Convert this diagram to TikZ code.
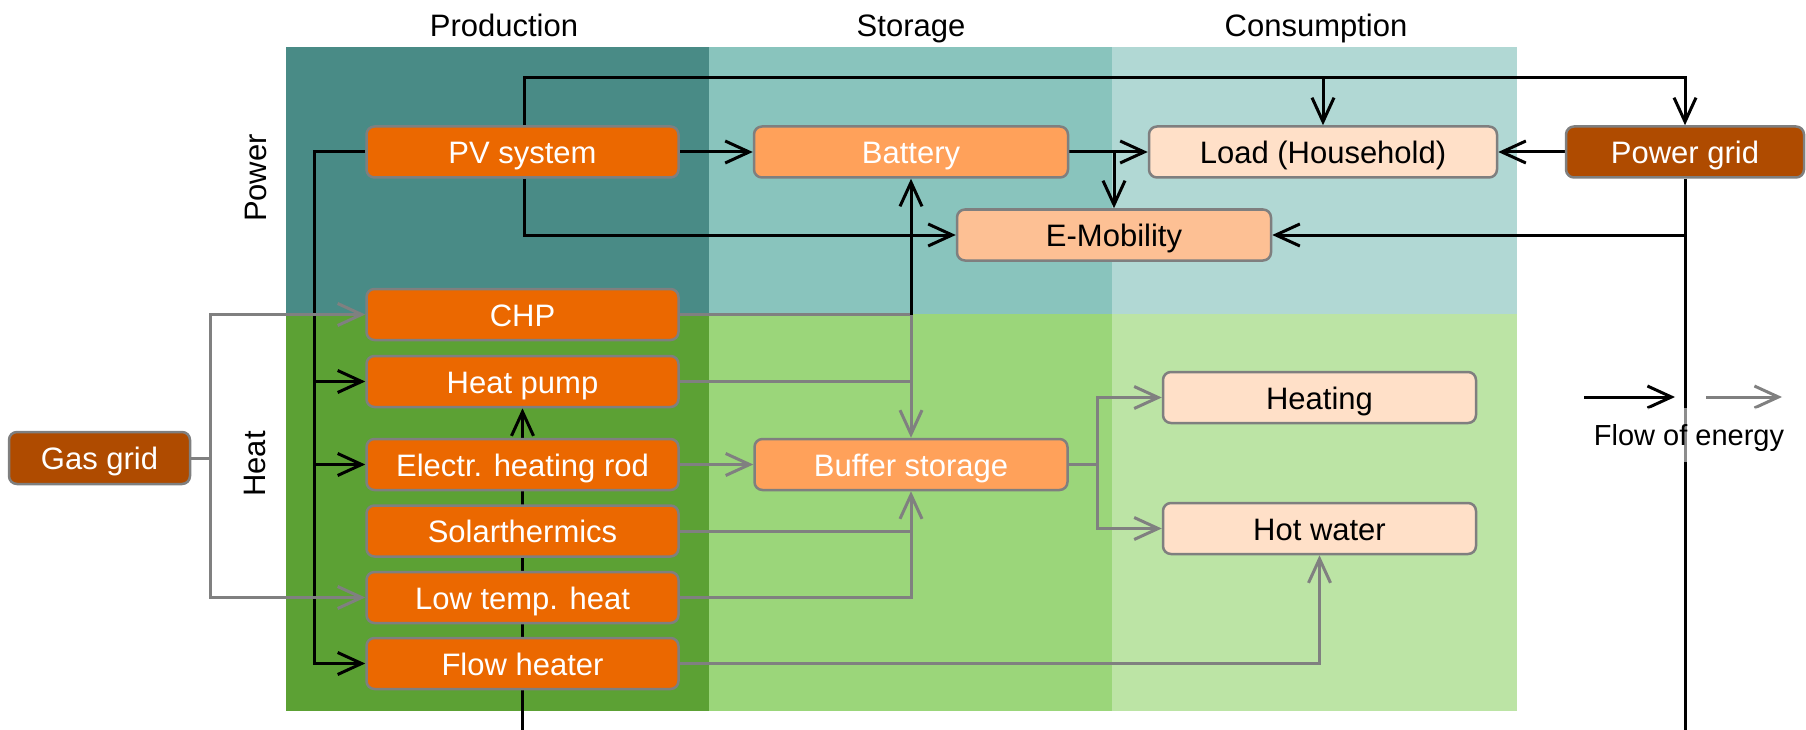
\documentclass[tikz,border=0pt]{standalone}
\usepackage{fontspec}
\setmainfont{Liberation Sans}
\usetikzlibrary{arrows.meta}
\pgfdeclarelayer{bg}
\pgfdeclarelayer{lines}
\pgfsetlayers{bg,lines,main}
\definecolor{ppw}{HTML}{498B86}
\definecolor{spw}{HTML}{89C4BD}
\definecolor{cpw}{HTML}{B1D8D4}
\definecolor{pht}{HTML}{5CA134}
\definecolor{sht}{HTML}{9BD67A}
\definecolor{cht}{HTML}{BCE4A5}
\definecolor{prodc}{HTML}{EB6800}
\definecolor{storc}{HTML}{FFA15A}
\definecolor{emobc}{HTML}{FDC094}
\definecolor{consc}{HTML}{FFE0C8}
\definecolor{gridc}{HTML}{AF4B00}
\definecolor{flowgray}{HTML}{808080}
\definecolor{bordc}{HTML}{7F7F7F}
\begin{document}
\begin{tikzpicture}[x=1pt,y=-1pt,
  box/.style={draw=bordc, line width=2.5pt, rounded corners=8pt, minimum height=51pt,
    inner sep=0pt, text height=23pt, text depth=0pt, font=\fontsize{31}{36}\selectfont},
  prod/.style={box, fill=prodc, text=white, minimum width=312pt},
  stor/.style={box, fill=storc, text=white, minimum width=314pt},
  cons/.style={box, fill=consc, text=black, minimum width=313pt},
  grid/.style={box, fill=gridc, text=white},
  hdr/.style={anchor=base, font=\fontsize{31}{36}\selectfont},
  pw/.style={draw=black, line width=3pt},
  pwa/.style={pw, -{Straight Barb[length=24pt, width=22pt]}},
  ht/.style={draw=flowgray, line width=3pt},
  hta/.style={ht, -{Straight Barb[length=24pt, width=22pt]}},
]
\useasboundingbox (0,0) rectangle (1806,730);
% panels
\begin{pgfonlayer}{bg}
\fill[ppw] (285.6,47.2) rectangle (708.5,313.5);
\fill[spw] (708.5,47.2) rectangle (1112,313.5);
\fill[cpw] (1112,47.2) rectangle (1517,313.5);
\fill[pht] (285.6,313.5) rectangle (708.5,710.6);
\fill[sht] (708.5,313.5) rectangle (1112,710.6);
\fill[cht] (1112,313.5) rectangle (1517,710.6);
\end{pgfonlayer}
% headers
\node[hdr] (hprod) at (504,37) {Production};
\node[hdr] (hstor) at (911,37) {Storage};
\node[hdr] (hcons) at (1316,37) {Consumption};
\node[rotate=90, font=\fontsize{31}{36}\selectfont] (lpow) at (256,178) {Power};
\node[rotate=90, font=\fontsize{31}{36}\selectfont] (lheat) at (255,464) {Heat};
% nodes
\node[prod] (pv) at (522.5,152) {PV system};
\node[prod] (chp) at (522.5,314.5) {CHP};
\node[prod] (hp) at (522.5,381.5) {Heat pump};
\node[prod] (rod) at (522.5,464.5) {Electr. heating rod};
\node[prod] (sol) at (522.5,531) {Solarthermics};
\node[prod] (ltemp) at (522.5,597.5) {Low temp. heat};
\node[prod] (flow) at (522.5,663.5) {Flow heater};
\node[grid, minimum width=181pt, minimum height=52pt] (gas) at (99.5,458) {Gas grid};
\node[stor] (bat) at (911,152) {Battery};
\node[box, fill=emobc, text=black, minimum width=314pt] (emob) at (1114,235) {E-Mobility};
\node[cons, minimum width=348pt] (load) at (1323,152) {Load (Household)};
\node[grid, minimum width=238pt] (pgrid) at (1685,152) {Power grid};
\node[stor, minimum width=313pt] (buf) at (911,464.5) {Buffer storage};
\node[cons] (heat) at (1319.5,397.5) {Heating};
\node[cons] (hotw) at (1319.5,528.5) {Hot water};
% helper coordinates
\coordinate (ytop) at (0,78);
\coordinate (bot) at (0,730);
\coordinate (xl) at (314,0);
\coordinate (xb) at (1097,0);
\coordinate (xg) at (210,0);
\coordinate (la1) at (1584,397);
\coordinate (la2) at (1675,397);
\coordinate (lb1) at (1706,397);
\coordinate (lb2) at (1782,397);
\begin{pgfonlayer}{lines}
% power flows
\draw[pwa] (pv.north -| 524,0) -- (524,78) -| (pgrid.north);
\draw[pwa] (load.north |- ytop) -- (load.north);
\draw[pwa] (pv.east) -- (bat.west);
\draw[pwa] (pv.south -| 524,0) |- (emob.west);
\draw[pwa] (pv.west) -| (xl |- flow) -- (flow.west);
\draw[pwa] (xl |- hp) -- (hp.west);
\draw[pwa] (xl |- rod) -- (rod.west);
\draw[pwa] (bat.east) -- (load.west);
\draw[pwa] (emob.north |- bat.east) -- (emob.north);
\draw[pwa] (pgrid.west) -- (load.east);
\draw[pw] (pgrid.south) -- (pgrid.south |- bot);
\draw[pwa] (pgrid.south |- emob.east) -- (emob.east);
\draw[pwa] (hp.south |- bot) -- (hp.south);
% heat flows
\draw[ht] (chp.east) -- (bat.south |- chp.east);
\draw[hta] (bat.south |- chp.east) -- (buf.north);
\draw[pwa] (bat.south |- chp.east) -- (bat.south);
\draw[ht] (hp.east) -- (buf.north |- hp.east);
\draw[hta] (rod.east) -- (buf.west);
\draw[hta] (sol.east) -| (buf.south);
\draw[ht] (ltemp.east) -| (buf.south |- sol.east);
\draw[hta] (flow.east) -| (hotw.south);
\draw[ht] (buf.east) -- (xb |- buf.east);
\draw[hta] (xb |- buf.east) |- (heat.west);
\draw[hta] (xb |- buf.east) |- (hotw.west);
\draw[ht] (gas.east) -- (xg |- gas.east);
\draw[hta] (xg |- gas.east) |- (chp.west);
\draw[hta] (xg |- gas.east) |- (ltemp.west);
% legend
\draw[pwa] (la1) -- (la2);
\draw[hta] (lb1) -- (lb2);
\end{pgfonlayer}
\node[fill=white, fill opacity=0.55, text opacity=1, inner sep=0pt, minimum height=54pt,
  text height=24pt, text depth=4pt,
  font=\fontsize{29}{34}\selectfont] (legtxt) at (1689,435) {Flow of energy};
\end{tikzpicture}
\end{document}
